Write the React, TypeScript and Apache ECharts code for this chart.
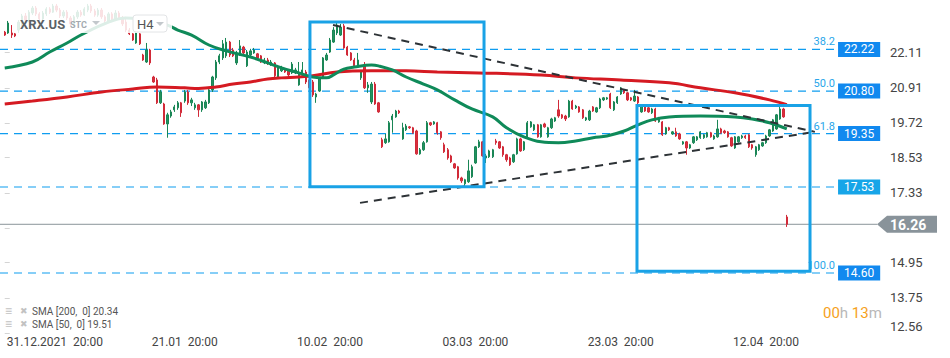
import React, { useEffect, useRef } from "react";
import * as echarts from "echarts";

// H4 candles, index = bar number; each row: [open, close, low, high]
const candles: number[][] = [
  [22.81, 22.71, 22.68, 22.85], [22.78, 23.12, 22.75, 23.19], [22.78, 22.71, 22.61, 23.05], [22.75, 22.68, 22.64, 22.78],
  [22.88, 23.15, 22.78, 23.22], [23.09, 23.36, 23.02, 23.43], [23.36, 23.22, 23.15, 23.46], [23.22, 23.49, 23.15, 23.56],
  [23.46, 23.63, 23.39, 23.70], [23.63, 23.43, 23.36, 23.70], [23.43, 23.26, 23.19, 23.49], [23.26, 23.46, 23.19, 23.53],
  [23.43, 23.60, 23.36, 23.66], [23.60, 23.49, 23.43, 23.66], [23.49, 23.70, 23.46, 23.77], [23.70, 23.56, 23.49, 23.77],
  [23.56, 23.36, 23.29, 23.63], [23.36, 23.49, 23.29, 23.56], [23.49, 23.29, 23.22, 23.56], [23.29, 23.09, 23.02, 23.36],
  [23.09, 23.33, 23.02, 23.39], [23.33, 23.49, 23.26, 23.56], [23.49, 23.39, 23.33, 23.56], [23.39, 23.60, 23.36, 23.66],
  [23.56, 23.70, 23.49, 23.77], [23.70, 23.53, 23.46, 23.77], [23.53, 23.39, 23.33, 23.60], [23.39, 23.56, 23.33, 23.63],
  [23.56, 23.33, 23.26, 23.63], [23.33, 23.19, 23.12, 23.39], [23.19, 23.43, 23.15, 23.49], [23.43, 23.26, 23.19, 23.49],
  [23.26, 23.46, 23.19, 23.56], [23.46, 23.29, 23.22, 23.53], [23.29, 23.09, 23.02, 23.36], [23.15, 22.88, 22.81, 23.33],
  [22.88, 22.75, 22.71, 22.95], [22.75, 22.54, 22.51, 22.78], [22.44, 22.78, 22.41, 22.95], [22.75, 22.41, 22.37, 22.78],
  [22.03, 21.86, 21.83, 22.07], [21.79, 22.20, 21.76, 22.44], [22.20, 21.76, 21.69, 22.24], [21.28, 21.11, 21.08, 21.32],
  [21.18, 20.40, 20.36, 21.25], [20.40, 20.77, 20.36, 20.84], [20.36, 19.68, 19.65, 20.40], [19.68, 19.99, 19.21, 20.06],
  [19.95, 20.09, 19.89, 20.16], [20.16, 20.26, 20.09, 20.33], [20.23, 20.40, 20.16, 20.46], [20.40, 20.06, 19.92, 20.43],
  [20.46, 20.77, 20.40, 20.84], [20.77, 20.40, 20.33, 20.84], [20.40, 20.50, 20.29, 20.57], [20.23, 20.33, 20.16, 20.40],
  [20.33, 20.16, 19.92, 20.36], [20.16, 20.43, 20.09, 20.46], [20.23, 20.43, 20.19, 20.50], [20.40, 20.84, 20.36, 20.91],
  [20.84, 21.28, 20.77, 21.32], [21.25, 21.79, 21.18, 21.86], [21.79, 22.00, 21.72, 22.07], [21.93, 22.41, 21.86, 22.54],
  [22.00, 22.47, 21.93, 22.61], [22.47, 22.03, 21.96, 22.51], [22.20, 22.00, 21.96, 22.27], [21.76, 22.10, 21.69, 22.17],
  [22.03, 22.34, 22.00, 22.54], [22.30, 22.10, 22.03, 22.34], [21.66, 22.13, 21.62, 22.20], [22.03, 22.17, 21.96, 22.24],
  [22.10, 22.20, 22.07, 22.27], [22.07, 21.93, 21.86, 22.10], [22.00, 21.79, 21.76, 22.03], [21.76, 21.86, 21.72, 21.93],
  [21.86, 21.76, 21.69, 21.93], [21.69, 21.79, 21.66, 21.86], [21.76, 21.32, 21.28, 21.79], [21.28, 21.62, 21.25, 21.69],
  [21.49, 21.59, 21.45, 21.66], [21.55, 21.45, 21.42, 21.59], [21.49, 21.35, 21.28, 21.55], [21.42, 21.72, 21.38, 21.79],
  [21.42, 21.52, 21.38, 21.59], [21.01, 21.38, 20.98, 21.79], [21.35, 21.52, 21.32, 21.79], [21.45, 21.11, 21.04, 21.52],
  [21.18, 20.91, 20.84, 21.25], [21.11, 20.67, 20.60, 21.18], [20.60, 20.70, 20.40, 20.74], [20.80, 21.25, 20.77, 21.28],
  [21.25, 21.93, 21.21, 21.96], [21.86, 22.03, 21.83, 22.10], [22.13, 22.54, 22.10, 22.61], [22.47, 22.88, 22.44, 22.98],
  [22.78, 23.05, 22.71, 23.15], [22.71, 22.98, 22.68, 23.09], [23.02, 22.27, 22.24, 23.09], [22.30, 22.03, 22.00, 22.34],
  [22.10, 21.86, 21.83, 22.13], [21.86, 21.66, 21.62, 21.93], [21.69, 21.86, 21.66, 22.10], [21.25, 21.45, 21.18, 21.52],
  [21.69, 20.91, 20.87, 21.79], [20.91, 21.01, 20.74, 21.11], [20.43, 21.04, 20.36, 21.11], [21.04, 20.36, 20.33, 21.11],
  [20.40, 20.09, 20.06, 20.43], [19.14, 18.90, 18.86, 19.21], [19.04, 19.17, 19.00, 19.34], [19.07, 19.72, 19.04, 19.78],
  [19.82, 19.95, 19.38, 20.02], [19.92, 20.12, 19.89, 20.16], [20.12, 20.06, 20.02, 20.16], [19.17, 19.55, 19.14, 19.72],
  [19.48, 19.61, 19.44, 19.68], [19.58, 19.55, 19.51, 19.61], [19.55, 19.38, 19.34, 19.58], [19.44, 18.66, 18.63, 19.48],
  [18.66, 18.80, 18.63, 18.86], [18.80, 19.04, 18.76, 19.10], [19.07, 19.72, 19.04, 19.78], [19.72, 19.65, 19.61, 19.75],
  [19.68, 19.75, 19.65, 19.78], [19.72, 19.38, 19.31, 19.75], [19.41, 19.21, 19.14, 19.44], [18.97, 18.73, 18.69, 19.04],
  [18.80, 18.52, 18.46, 18.86], [18.59, 18.39, 18.35, 18.63], [18.32, 18.18, 18.15, 18.35], [18.22, 17.84, 17.78, 18.25],
  [17.84, 17.74, 17.67, 17.88], [17.64, 17.78, 17.57, 17.81], [17.71, 18.08, 17.67, 18.46], [17.88, 18.22, 17.84, 18.29],
  [18.35, 18.90, 18.32, 18.93], [18.90, 19.07, 18.86, 19.14], [19.07, 18.59, 18.56, 19.10], [18.52, 18.59, 18.35, 18.66],
  [18.56, 18.76, 18.52, 18.80], [18.56, 18.80, 18.52, 18.83], [19.10, 19.04, 18.97, 19.17], [19.07, 18.86, 18.83, 19.10],
  [18.90, 18.63, 18.56, 18.93], [18.63, 18.46, 18.39, 18.66], [18.52, 18.29, 18.25, 18.56], [18.39, 18.63, 18.35, 18.66],
  [18.66, 19.17, 18.63, 19.21], [19.17, 18.76, 18.73, 19.21], [18.80, 19.07, 18.76, 19.10], [19.21, 19.72, 19.17, 19.78],
  [19.58, 19.75, 19.55, 19.78], [19.48, 19.65, 19.44, 19.68], [19.65, 19.24, 19.21, 19.68], [19.24, 19.65, 19.21, 19.68],
  [19.68, 19.58, 19.55, 19.72], [19.24, 19.55, 19.21, 19.58], [19.55, 19.85, 19.51, 19.89], [19.78, 19.89, 19.75, 19.92],
  [20.16, 19.95, 19.89, 20.50], [19.99, 19.89, 19.85, 20.02], [19.95, 19.85, 19.78, 19.99], [19.92, 20.46, 19.89, 20.50],
  [20.46, 20.19, 20.16, 20.50], [20.23, 20.29, 20.19, 20.33], [20.26, 20.09, 20.06, 20.29], [20.16, 19.89, 19.85, 20.19],
  [19.82, 19.89, 19.78, 19.92], [19.82, 20.12, 19.78, 20.16], [20.26, 20.12, 20.09, 20.29], [20.09, 20.23, 20.06, 20.26],
  [20.23, 20.53, 20.19, 20.57], [20.50, 20.57, 20.46, 20.60], [20.53, 20.57, 20.50, 20.60], [20.70, 20.23, 20.19, 20.74],
  [20.16, 20.43, 20.12, 20.46], [20.40, 20.60, 20.36, 20.63], [20.70, 20.91, 20.67, 20.94], [20.84, 20.74, 20.70, 20.87],
  [20.74, 20.50, 20.46, 20.77], [20.57, 20.50, 20.46, 20.60], [20.46, 20.63, 20.43, 20.84], [20.60, 20.40, 20.36, 20.63],
  [20.09, 20.29, 20.06, 20.33], [20.29, 20.12, 20.09, 20.33], [20.23, 20.09, 20.06, 20.26], [20.06, 20.19, 20.02, 20.23],
  [20.19, 19.78, 19.75, 20.23], [19.75, 19.89, 19.72, 19.92], [19.75, 19.31, 19.27, 19.78], [19.34, 19.55, 19.31, 19.58],
  [19.55, 19.48, 19.44, 19.58], [19.34, 19.41, 19.31, 19.44], [19.41, 19.27, 19.24, 19.55], [19.34, 19.17, 19.14, 19.38],
  [19.00, 19.07, 18.97, 19.10], [19.07, 18.86, 18.63, 19.10], [18.86, 18.97, 18.83, 19.00], [19.04, 19.24, 19.00, 19.27],
  [19.14, 19.24, 19.10, 19.27], [19.21, 19.41, 19.17, 19.44], [19.21, 19.31, 19.17, 19.34], [19.24, 19.38, 19.21, 19.41],
  [19.38, 19.24, 19.21, 19.41], [19.17, 19.27, 19.14, 19.31], [19.24, 19.51, 19.21, 19.82], [19.51, 19.38, 19.34, 19.55],
  [19.44, 19.38, 19.34, 19.48], [19.41, 19.24, 19.21, 19.44], [19.21, 18.93, 18.90, 19.24], [18.86, 19.24, 18.83, 19.27],
  [19.07, 19.24, 19.04, 19.27], [19.21, 19.27, 19.17, 19.31], [19.27, 19.21, 19.17, 19.31], [19.31, 18.90, 18.86, 19.34],
  [18.97, 18.86, 18.80, 19.00], [18.63, 18.90, 18.56, 18.93], [18.80, 18.97, 18.76, 19.00], [18.93, 19.04, 18.90, 19.07],
  [19.04, 19.27, 19.00, 19.31], [19.27, 19.48, 19.24, 19.51], [19.44, 19.82, 19.41, 19.85], [19.51, 19.99, 19.48, 20.02],
  [19.85, 20.19, 19.82, 20.26], [20.19, 19.92, 19.89, 20.23], [16.51, 16.26, 16.17, 16.58],
];

// moving averages: [bar index, value]
const sma50: number[][] = [
  [0, 21.59], [8, 21.79], [13, 22.13], [18, 22.44], [22, 22.71], [30, 23.15], [35, 23.29], [42, 23.22],
  [47, 23.05], [50, 22.88], [54, 22.71], [59, 22.37], [64, 22.17], [71, 21.96], [76, 21.76], [80, 21.59],
  [85, 21.42], [89, 21.28], [93, 21.25], [95, 21.35], [98, 21.55], [101, 21.62], [106, 21.69], [108, 21.66],
  [112, 21.52], [116, 21.28], [121, 21.04], [125, 20.84], [130, 20.5], [135, 20.19], [141, 19.92], [145, 19.55],
  [150, 19.24], [155, 19.07], [160, 19.04], [165, 19.1], [170, 19.21], [174, 19.27], [179, 19.44], [183, 19.65],
  [187, 19.82], [192, 19.92], [201, 19.95], [211, 19.92], [216, 19.85], [221, 19.72], [226, 19.51],
];
const sma200: number[][] = [
  [0, 20.36], [8, 20.46], [18, 20.6], [28, 20.77], [37, 20.87], [44, 20.94], [52, 20.91], [56, 20.89],
  [61, 20.94], [66, 21.04], [71, 21.11], [76, 21.21], [80, 21.25], [85, 21.28], [89, 21.32], [96, 21.45],
  [106, 21.49], [116, 21.49], [125, 21.45], [137, 21.42], [155, 21.35], [165, 21.25], [178, 21.18],
  [192, 21.08], [201, 20.91], [211, 20.74], [221, 20.5], [226, 20.34],
];

const fibLevels = [22.22, 20.8, 19.35, 17.53, 14.6];
const fibPercents = ["38.2", "50.0", "61.8", "", "100.0"];
const fibBoxColors = ["#1189ef", "#1189ef", "#1189ef", "#17a5e8", "#1189ef"];
const lastPrice = 16.26;

const xTickIdx = [10, 52, 94, 136, 178, 220];
const xTickLabels = ["31.12.2021  20:00", "21.01  20:00", "10.02  20:00", "03.03  20:00", "23.03  20:00", "12.04  20:00"];
const yTicks = [12.56, 13.75, 14.95, 16.14, 17.33, 18.53, 19.72, 20.91, 22.11];
const yLabelTicks = [12.56, 13.75, 14.95, 17.33, 18.53, 19.72, 20.91, 22.11];

const trendUpper = [[94.86, 23.05], [234.1, 19.41]];
const trendLower = [[102.67, 16.99], [234.1, 19.41]];
const boxes = [
  [[88.2, 23.155], [138.5, 17.537]],
  [[182.7, 20.31], [232.7, 14.66]],
];

const X_MIN = -1.367;
const X_MAX = 253.5;
const Y_MIN = 12.555;
const Y_MAX = 23.904;
const LEVEL_END = 240.8;
const PRICE_LINE_END = 252.06;

const FONT = "Roboto, 'Noto Sans', sans-serif";
const BLUE = "#19a2e6";
const LEVEL_BLUE = "#0f9df0";

export default function App() {
  const ref = useRef<HTMLDivElement>(null);

  useEffect(() => {
    if (!ref.current) return;
    const chart = echarts.init(ref.current, undefined, { renderer: "svg" });

    const levelSeries: any[] = fibLevels.map((lvl, k) => ({
      type: "line",
      name: "level " + lvl,
      z: 1,
      silent: true,
      showSymbol: false,
      data: [[X_MIN, lvl], [LEVEL_END, lvl]],
      lineStyle: { color: LEVEL_BLUE, width: 1.1, type: [8, 6] },
      endLabel: {
        show: true,
        formatter: lvl.toFixed(2),
        backgroundColor: fibBoxColors[k],
        color: "#fff",
        fontSize: 12,
        fontFamily: FONT,
        padding: [2, 6, 1, 6],
        distance: 0,
      },
    }));

    const trendSeries: any[] = [trendUpper, trendLower].map((t, k) => ({
      type: "line",
      name: "trend " + k,
      z: 5,
      silent: true,
      showSymbol: false,
      data: t,
      lineStyle: { color: "#2d3236", width: 2, type: [8, 6] },
    }));

    const option: any = {
      animation: false,
      textStyle: { fontFamily: FONT },
      grid: { left: 0, right: 68, top: 0, bottom: 25, containLabel: false },
      xAxis: {
        type: "value",
        min: X_MIN,
        max: X_MAX,
        axisLine: { show: false },
        axisTick: { show: false },
        splitLine: { show: false },
        axisLabel: {
          customValues: xTickIdx,
          margin: 3,
          color: "#444",
          fontSize: 12,
          fontFamily: FONT,
          formatter: (v: number) => {
            const k = xTickIdx.indexOf(Math.round(v));
            if (k < 0) return "";
            return k === 0 ? `{first|${xTickLabels[0]}}` : xTickLabels[k];
          },
          rich: { first: { padding: [0, 0, 0, 31], fontSize: 12, color: "#444", fontFamily: FONT } },
        },
      },
      yAxis: {
        type: "value",
        position: "right",
        min: Y_MIN,
        max: Y_MAX,
        splitLine: { show: false },
        axisLine: { show: false },
        axisTick: { show: true, customValues: yTicks, length: 5, lineStyle: { color: "#d4d4d4" } },
        axisLabel: {
          customValues: yLabelTicks,
          margin: 8,
          color: "#444",
          fontSize: 13,
          fontFamily: FONT,
          formatter: (v: number) => (Math.abs(v - 12.56) < 1e-6 ? "{lo|12.56}" : v.toFixed(2)),
          rich: { lo: { padding: [0, 0, 12, 0], fontSize: 13, color: "#444", fontFamily: FONT } },
        },
      },
      series: [
        ...levelSeries,
        {
          type: "line",
          name: "price",
          z: 1,
          data: [[X_MIN, lastPrice], [PRICE_LINE_END, lastPrice]],
          showSymbol: false,
          lineStyle: { color: "#8a9499", width: 1 },
          silent: true,
        },
        {
          type: "candlestick",
          name: "XRX.US",
          z: 2,
          barWidth: 1.8,
          encode: { x: 0, y: [1, 2, 3, 4] },
          data: candles.map((c, i) => [i, c[0], c[1], c[2], c[3]]),
          itemStyle: {
            color: "#23925f",
            color0: "#d8303e",
            borderColor: "#1a8656",
            borderColor0: "#d12a38",
            borderWidth: 1,
          },
        },
        {
          type: "line",
          name: "SMA 200",
          z: 3,
          data: sma200,
          smooth: 0.4,
          showSymbol: false,
          lineStyle: { color: "#d51a22", width: 3 },
          silent: true,
        },
        {
          type: "line",
          name: "SMA 50",
          z: 3,
          data: sma50,
          smooth: 0.4,
          showSymbol: false,
          lineStyle: { color: "#0f8a59", width: 3 },
          silent: true,
          markArea: {
            z: 6,
            silent: true,
            itemStyle: { color: "rgba(0,0,0,0)", borderColor: BLUE, borderWidth: 3 },
            data: boxes.map((b) => [{ coord: b[0] }, { coord: b[1] }]),
          },
        },
        ...trendSeries,
      ],
    };

    chart.setOption(option);

    const toPx = (x: number, y: number) => chart.convertToPixel({ xAxisIndex: 0, yAxisIndex: 0 }, [x, y]) as number[];
    const pt = toPx(PRICE_LINE_END, lastPrice);
    const px = pt[0];
    const py = pt[1];

    const fibTexts: any[] = [];
    fibLevels.forEach((lvl, k) => {
      if (!fibPercents[k]) return;
      const p = toPx(LEVEL_END, lvl);
      fibTexts.push({
        type: "text",
        z: 4,
        x: p[0] - 3,
        y: p[1] - 2,
        style: { text: fibPercents[k], font: `11px ${FONT}`, fill: "#2aa6ea", align: "right", verticalAlign: "bottom" },
      });
    });

    chart.setOption({
      graphic: [
        ...fibTexts,
        { type: "rect", z: 100, shape: { x: 16, y: 0, width: 156, height: 33 }, style: { fill: "rgba(255,255,255,0.86)" } },
        { type: "text", z: 101, x: 20, y: 24, style: { text: "XRX.US", font: `bold 13px ${FONT}`, fill: "#5b6166", verticalAlign: "middle" } },
        { type: "text", z: 101, x: 70, y: 25, style: { text: "STC", font: `bold 9px ${FONT}`, fill: "#a3aab0", verticalAlign: "middle" } },
        { type: "polygon", z: 101, shape: { points: [[92, 21], [100, 21], [96, 25]] }, style: { fill: "#c3c8cc" } },
        { type: "rect", z: 101, shape: { x: 133, y: 15, width: 34, height: 17, r: 3 }, style: { fill: "#fff", stroke: "#e2e4e6", lineWidth: 1 } },
        { type: "text", z: 102, x: 137, y: 24, style: { text: "H4", font: `13px ${FONT}`, fill: "#555", verticalAlign: "middle" } },
        { type: "polygon", z: 102, shape: { points: [[156, 22], [164, 22], [160, 26]] }, style: { fill: "#c3c8cc" } },

        { type: "text", z: 101, x: 5, y: 311, style: { text: "≡", font: `12px ${FONT}`, fill: "#c2c2c2", verticalAlign: "middle" } },
        { type: "text", z: 101, x: 20, y: 311, style: { text: "✖", font: `9px 'DejaVu Sans'`, fill: "#c2c2c2", verticalAlign: "middle" } },
        { type: "text", z: 101, x: 32, y: 311, style: { text: "SMA [200,  0] 20.34", font: `10px ${FONT}`, fill: "#555", verticalAlign: "middle" } },
        { type: "text", z: 101, x: 5, y: 324, style: { text: "≡", font: `12px ${FONT}`, fill: "#c2c2c2", verticalAlign: "middle" } },
        { type: "text", z: 101, x: 20, y: 324, style: { text: "✖", font: `9px 'DejaVu Sans'`, fill: "#c2c2c2", verticalAlign: "middle" } },
        { type: "text", z: 101, x: 32, y: 324, style: { text: "SMA [50,  0] 19.51", font: `10px ${FONT}`, fill: "#555", verticalAlign: "middle" } },

        {
          type: "polygon",
          z: 110,
          shape: { points: [[px, py], [px + 10, py - 8.5], [px + 60, py - 8.5], [px + 60, py + 8.5], [px + 10, py + 8.5]] },
          style: { fill: "#89939a" },
        },
        { type: "text", z: 111, x: px + 13, y: py + 1, style: { text: lastPrice.toFixed(2), font: `bold 14px ${FONT}`, fill: "#fff", verticalAlign: "middle" } },

        {
          type: "text",
          z: 101,
          x: 823,
          y: 313,
          style: {
            text: "{o|00}{g|h} {o|13}{g|m}",
            verticalAlign: "middle",
            font: `15px ${FONT}`,
            rich: {
              o: { fill: "#f6a11c", fontSize: 15, fontFamily: FONT },
              g: { fill: "#b8b8b8", fontSize: 15, fontFamily: FONT },
            },
          },
        },
      ],
    });

    return () => {
      chart.dispose();
    };
  }, []);

  return <div ref={ref} style={{ position: "fixed", left: 0, top: 0, width: 950, height: 358, background: "#fff" }} />;
}
